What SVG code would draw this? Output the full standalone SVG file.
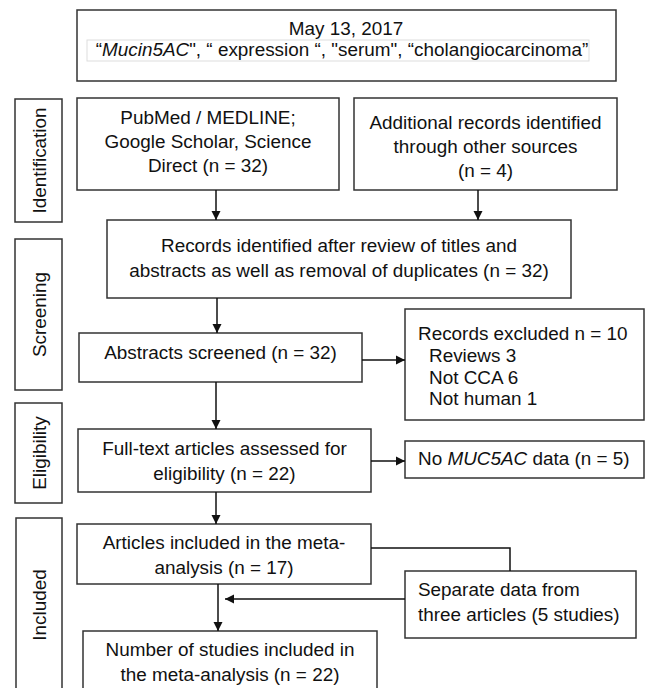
<svg xmlns="http://www.w3.org/2000/svg" width="646" height="688" viewBox="0 0 646 688">
<style>
  .box { fill: #fff; stroke: #333; stroke-width: 1.5; }
  .lbl { fill: #fff; stroke: #333; stroke-width: 1.5; }
  text { font-family: "Liberation Sans", Arial, sans-serif; font-size: 18.9px; fill: #111; }
  .c { text-anchor: middle; }
  .line { fill: none; stroke: #111; stroke-width: 1.5; }
</style>
<defs>
  <marker id="ah" viewBox="0 0 10 10" refX="10" refY="5" markerWidth="9" markerHeight="10" markerUnits="userSpaceOnUse" orient="auto">
    <path d="M0,0 L10,5 L0,10 z" fill="#111"/>
  </marker>
</defs>
<rect width="646" height="688" fill="#fff"/>

<g id="phase-identification">
  <rect class="lbl" x="15" y="99" width="47" height="123"/>
  <text class="c" transform="translate(46,160.5) rotate(-90)">Identification</text>
</g>
<g id="phase-screening">
  <rect class="lbl" x="15" y="239" width="47" height="151"/>
  <text class="c" transform="translate(46,314.5) rotate(-90)">Screening</text>
</g>
<g id="phase-eligibility">
  <rect class="lbl" x="15" y="403" width="47" height="100"/>
  <text class="c" transform="translate(46,453) rotate(-90)">Eligibility</text>
</g>
<g id="phase-included">
  <rect class="lbl" x="16" y="518" width="46" height="180"/>
  <text class="c" transform="translate(46,605) rotate(-90)">Included</text>
</g>

<g id="search">
  <rect class="box" x="77" y="10" width="539" height="71"/>
  <rect x="87" y="40" width="502" height="21" fill="#fff" stroke="#ddd" stroke-width="1"/>
  <text class="c" x="346" y="35">May 13, 2017</text>
  <text class="c" x="342" y="56">“<tspan font-style="italic">Mucin5AC</tspan>", “ expression “, "serum", “cholangiocarcinoma”</text>
</g>

<g id="pubmed">
  <rect class="box" x="77" y="98" width="262" height="92"/>
  <text class="c" x="208" y="124">PubMed / MEDLINE;</text>
  <text class="c" x="208" y="148">Google Scholar, Science</text>
  <text class="c" x="208" y="172">Direct (n = 32)</text>
</g>

<g id="additional">
  <rect class="box" x="354" y="98" width="263" height="92"/>
  <text class="c" x="485.5" y="129">Additional records identified</text>
  <text class="c" x="485.5" y="153">through other sources</text>
  <text class="c" x="485.5" y="177">(n = 4)</text>
</g>

<g id="identified">
  <rect class="box" x="107" y="220" width="464" height="78"/>
  <text class="c" x="339" y="252">Records identified after review of titles and</text>
  <text class="c" x="339" y="277">abstracts as well as removal of duplicates (n = 32)</text>
</g>

<g id="screened">
  <rect class="box" x="79" y="333" width="283" height="49"/>
  <text class="c" x="220.5" y="359">Abstracts screened (n = 32)</text>
</g>

<g id="excluded">
  <rect class="box" x="405" y="309" width="239" height="111"/>
  <text x="418" y="340">Records excluded n = 10</text>
  <text x="429" y="362">Reviews 3</text>
  <text x="429" y="384">Not CCA 6</text>
  <text x="429" y="405">Not human 1</text>
</g>

<g id="fulltext">
  <rect class="box" x="78" y="429" width="293" height="63"/>
  <text class="c" x="224.5" y="455">Full-text articles assessed for</text>
  <text class="c" x="224.5" y="480">eligibility (n = 22)</text>
</g>

<g id="nomuc">
  <rect class="box" x="405" y="441" width="239" height="37"/>
  <text x="418" y="465">No <tspan font-style="italic">MUC5AC</tspan> data (n = 5)</text>
</g>

<g id="articles">
  <rect class="box" x="77" y="524" width="294" height="60"/>
  <text class="c" x="224" y="549">Articles included in the meta-</text>
  <text class="c" x="224" y="574">analysis (n = 17)</text>
</g>

<g id="separate">
  <rect class="box" x="405" y="571" width="231" height="67"/>
  <text x="418" y="596">Separate data from</text>
  <text x="418" y="621">three articles (5 studies)</text>
</g>

<g id="studies">
  <rect class="box" x="83" y="631" width="294" height="70"/>
  <text class="c" x="230" y="656">Number of studies included in</text>
  <text class="c" x="230" y="681">the meta-analysis (n = 22)</text>
</g>

<g id="connectors">
  <line class="line" x1="216" y1="190" x2="216" y2="220" marker-end="url(#ah)"/>
  <line class="line" x1="478" y1="190" x2="478" y2="220" marker-end="url(#ah)"/>
  <line class="line" x1="217" y1="298" x2="217" y2="333" marker-end="url(#ah)"/>
  <line class="line" x1="362" y1="360" x2="405" y2="360" marker-end="url(#ah)"/>
  <line class="line" x1="216" y1="382" x2="216" y2="429" marker-end="url(#ah)"/>
  <line class="line" x1="371" y1="461" x2="405" y2="461" marker-end="url(#ah)"/>
  <line class="line" x1="216" y1="492" x2="216" y2="524" marker-end="url(#ah)"/>
  <polyline class="line" points="371,548 510,548 510,571"/>
  <line class="line" x1="405" y1="599" x2="225" y2="599" marker-end="url(#ah)"/>
  <line class="line" x1="218" y1="584" x2="218" y2="631" marker-end="url(#ah)"/>
</g>
</svg>
